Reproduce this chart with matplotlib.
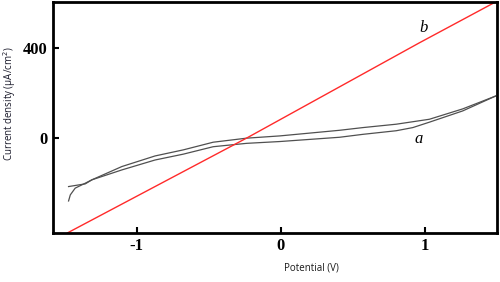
import matplotlib.pyplot as plt

# scan branch a (two sweeps of the same electrode)
a_fwd_x = [-1.472, -1.46, -1.426, -1.356, -1.31, -1.102, -0.872, -0.676, -0.469,
           -0.237, -0.007, 0.408, 0.57, 0.801, 1.031, 1.262, 1.49]
a_fwd_y = [-280, -253, -223, -201, -186, -127, -80, -53, -19,
           -1, 9, 34, 46, 61, 83, 129, 186]
a_rev_x = [-1.472, -1.356, -1.31, -1.102, -0.872, -0.676, -0.469, -0.237,
           -0.007, 0.408, 0.57, 0.801, 0.916, 1.031, 1.262, 1.49]
a_rev_y = [-216, -204, -186, -142, -98, -72, -39, -24,
           -16, 3, 16, 32, 46, 70, 120, 186]

# curve b (straight line)
b_x = [-1.48, -0.235, 0.96, 1.49]
b_y = [-422, 0, 422, 604]

fig = plt.figure(figsize=(5, 2.82), dpi=100)
ax = fig.add_axes([0.106, 0.174, 0.888, 0.819])

ax.plot(a_fwd_x, a_fwd_y, color="#505050", lw=0.9)
ax.plot(a_rev_x, a_rev_y, color="#505050", lw=0.9)
ax.plot(b_x, b_y, color="#ff2a2a", lw=1.0)

ax.set_xlim(-1.58, 1.5)
ax.set_ylim(-422, 604)
ax.set_xticks([-1, 0, 1])
ax.set_xticklabels(["-1", "0", "1"])
ax.set_yticks([0, 400])
ax.set_yticklabels(["0", "400"])

tick_font = dict(family="Liberation Serif", weight="bold", size=12)
for lab in ax.get_xticklabels() + ax.get_yticklabels():
    lab.set_fontproperties(tick_font)
ax.tick_params(direction="in", length=4, width=1.5, pad=4)

for sp in ax.spines.values():
    sp.set_linewidth(2)

ax.text(0.96, 470, "b", family="Liberation Serif", style="italic", fontsize=12)
ax.text(0.93, -3, "a", family="Liberation Serif", style="italic", fontsize=12,
        va="center")

fig.text(10 / 500, 1 - 104 / 282, "Current density (\u00b5A/cm$^2$)", rotation=90,
         ha="center", va="center", fontsize=7, family="Open Sans", color="#1a1a2a")
fig.text(311 / 500, 1 - 268 / 282, "Potential (V)", ha="center", va="center",
         fontsize=7, family="Open Sans", color="#1a1a1a")

fig.savefig("out.png", dpi=100)
